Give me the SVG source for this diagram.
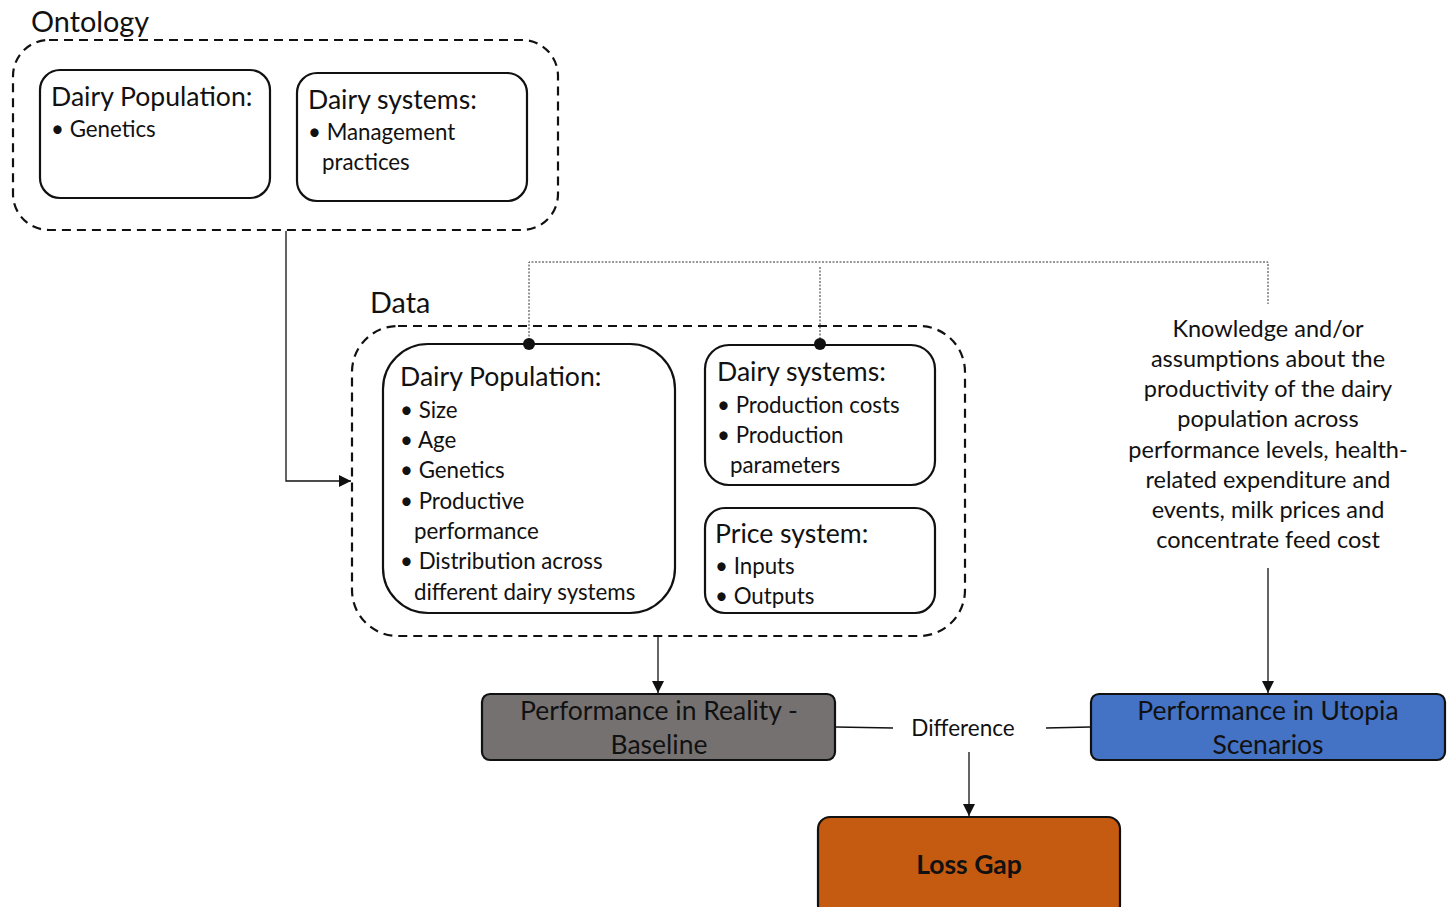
<svg xmlns="http://www.w3.org/2000/svg" width="1451" height="907" viewBox="0 0 1451 907">
<style>
text{font-family:Lato,"Open Sans","Liberation Sans",sans-serif;fill:#111}
.grp{fill:none;stroke:#111;stroke-width:2.2;stroke-dasharray:9 6}
.box{fill:#fff;stroke:#111;stroke-width:2.2}
.h{font-size:26.6px}
.b{font-size:22.3px}
.lab{font-size:28.8px}
.k{font-size:23.5px;text-anchor:middle}
.c{stroke:#111;stroke-width:1.3;fill:none}
.d{stroke:#333;stroke-width:1;fill:none;stroke-dasharray:2 1.5}
.res{stroke:#111;stroke-width:2.2}
.rt{font-size:26.5px;text-anchor:middle}
</style>
<defs>
<marker id="arr" viewBox="0 0 10 10" refX="10" refY="5" markerWidth="12" markerHeight="12" markerUnits="userSpaceOnUse" orient="auto">
<path d="M0,0 L10,5 L0,10 z" fill="#111"/>
</marker>
</defs>

<g id="ontology">
<text class="lab" x="31" y="32">Ontology</text>
<rect class="grp" x="13" y="40" width="545" height="190" rx="36"/>
</g>
<g id="onto-pop">
<rect class="box" x="40" y="70" width="230" height="128" rx="20"/>
<text class="h" x="51" y="106">Dairy Population:</text>
<text class="b" x="51" y="137">• Genetics</text>
</g>
<g id="onto-sys">
<rect class="box" x="297" y="73" width="230" height="128" rx="20"/>
<text class="h" x="308" y="109">Dairy systems:</text>
<text class="b" x="308" y="140">• Management</text>
<text class="b" x="322" y="170">practices</text>
</g>

<g id="data">
<text class="lab" x="370" y="313">Data</text>
<rect class="grp" x="352" y="326" width="613" height="310" rx="46"/>
</g>
<g id="data-pop">
<rect class="box" x="383" y="344" width="292" height="269" rx="45"/>
<text class="h" x="400" y="386">Dairy Population:</text>
<text class="b" x="400" y="418">• Size</text>
<text class="b" x="400" y="448">• Age</text>
<text class="b" x="400" y="478">• Genetics</text>
<text class="b" x="400" y="509">• Productive</text>
<text class="b" x="414" y="539">performance</text>
<text class="b" x="400" y="569">• Distribution across</text>
<text class="b" x="414" y="600">different dairy systems</text>
</g>
<g id="data-sys">
<rect class="box" x="705" y="345" width="230" height="140" rx="24"/>
<text class="h" x="717" y="381">Dairy systems:</text>
<text class="b" x="717" y="413">• Production costs</text>
<text class="b" x="717" y="443">• Production</text>
<text class="b" x="730" y="473">parameters</text>
</g>
<g id="data-price">
<rect class="box" x="705" y="508" width="230" height="105" rx="20"/>
<text class="h" x="715" y="543">Price system:</text>
<text class="b" x="715" y="574">• Inputs</text>
<text class="b" x="715" y="604">• Outputs</text>
</g>

<g id="knowledge">
<text class="k" x="1268" y="337">Knowledge and/or</text>
<text class="k" x="1268" y="367">assumptions about the</text>
<text class="k" x="1268" y="397">productivity of the dairy</text>
<text class="k" x="1268" y="427">population across</text>
<text class="k" x="1268" y="458">performance levels, health-</text>
<text class="k" x="1268" y="488">related expenditure and</text>
<text class="k" x="1268" y="518">events, milk prices and</text>
<text class="k" x="1268" y="548">concentrate feed cost</text>
</g>

<g id="reality">
<rect class="res" x="482" y="694" width="353" height="66" rx="8" fill="#767171"/>
<text class="rt" x="659" y="720">Performance in Reality -</text>
<text class="rt" x="659" y="754">Baseline</text>
</g>
<g id="utopia">
<rect class="res" x="1091" y="694" width="354" height="66" rx="8" fill="#4472C4"/>
<text class="rt" x="1268" y="720">Performance in Utopia</text>
<text class="rt" x="1268" y="754">Scenarios</text>
</g>
<g id="difference">
<text x="963" y="736" style="font-size:22.5px;text-anchor:middle">Difference</text>
</g>
<g id="lossgap">
<rect class="res" x="818" y="817" width="302" height="100" rx="12" fill="#C55A11"/>
<text x="969" y="874" style="font-size:26.5px;font-weight:bold;text-anchor:middle">Loss Gap</text>
</g>

<g id="connectors">
<polyline class="c" points="286,231 286,481 351,481" marker-end="url(#arr)"/>
<line class="c" x1="658" y1="637" x2="658" y2="693" marker-end="url(#arr)"/>
<line class="c" x1="1268" y1="568" x2="1268" y2="693" marker-end="url(#arr)"/>
<line class="c" x1="969" y1="752" x2="969" y2="816" marker-end="url(#arr)"/>
<line class="c" x1="836" y1="727" x2="893" y2="728"/>
<line class="c" x1="1046" y1="728" x2="1090" y2="727"/>
<polyline class="d" points="529,340 529,262 1268,262 1268,304"/>
<line class="d" x1="820" y1="267" x2="820" y2="340"/>
<circle cx="529" cy="344" r="6" fill="#111"/>
<circle cx="820" cy="344" r="6" fill="#111"/>
</g>
</svg>
